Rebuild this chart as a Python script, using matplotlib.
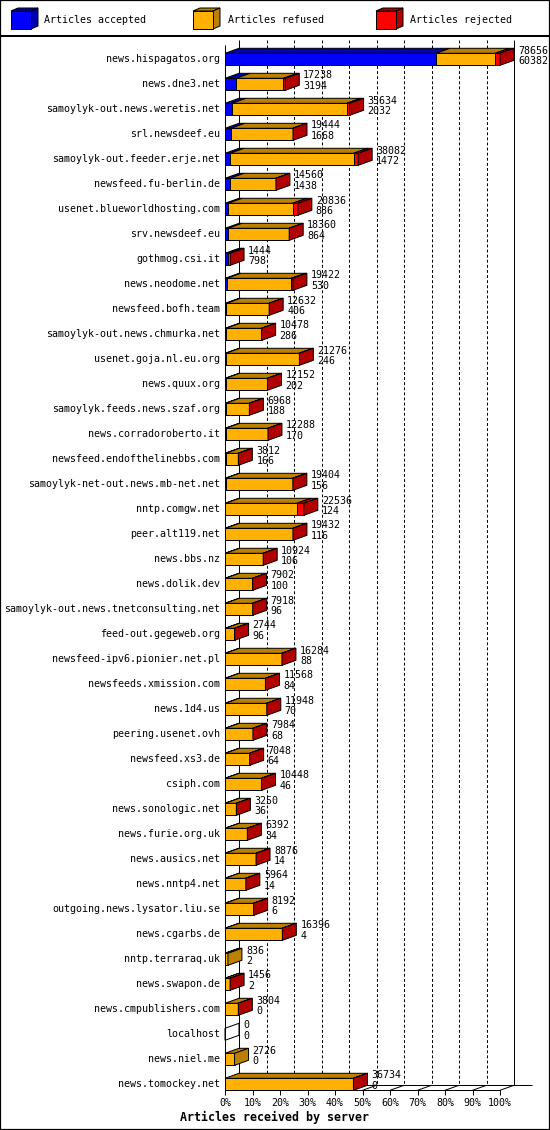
import matplotlib
matplotlib.use('Agg')
import matplotlib.pyplot as plt
from matplotlib.patches import Polygon, Rectangle
from matplotlib.lines import Line2D

# du lieu doc tu hinh
servers = ['news.hispagatos.org', 'news.dne3.net', 'samoylyk-out.news.weretis.net',
           'srl.newsdeef.eu', 'samoylyk-out.feeder.erje.net', 'newsfeed.fu-berlin.de',
           'usenet.blueworldhosting.com', 'srv.newsdeef.eu', 'gothmog.csi.it',
           'news.neodome.net', 'newsfeed.bofh.team', 'samoylyk-out.news.chmurka.net',
           'usenet.goja.nl.eu.org', 'news.quux.org', 'samoylyk.feeds.news.szaf.org',
           'news.corradoroberto.it', 'newsfeed.endofthelinebbs.com',
           'samoylyk-net-out.news.mb-net.net', 'nntp.comgw.net', 'peer.alt119.net',
           'news.bbs.nz', 'news.dolik.dev', 'samoylyk-out.news.tnetconsulting.net',
           'feed-out.gegeweb.org', 'newsfeed-ipv6.pionier.net.pl', 'newsfeeds.xmission.com',
           'news.1d4.us', 'peering.usenet.ovh', 'newsfeed.xs3.de', 'csiph.com',
           'news.sonologic.net', 'news.furie.org.uk', 'news.ausics.net', 'news.nntp4.net',
           'outgoing.news.lysator.liu.se', 'news.cgarbs.de', 'nntp.terraraq.uk',
           'news.swapon.de', 'news.cmpublishers.com', 'localhost', 'news.niel.me',
           'news.tomockey.net']
offered = [78656, 17238, 35634, 19444, 38082, 14560, 20836, 18360, 1444, 19422,
           12632, 10478, 21276, 12152, 6968, 12288, 3812, 19404, 22536, 19432,
           10924, 7902, 7918, 2744, 16284, 11568, 11948, 7984, 7048, 10448,
           3250, 6392, 8876, 5964, 8192, 16396, 836, 1456, 3804, 0, 2726, 36734]
accepted = [60382, 3194, 2032, 1668, 1472, 1438, 886, 864, 798, 530,
            406, 286, 246, 202, 188, 170, 166, 156, 124, 116,
            106, 100, 96, 96, 88, 84, 70, 68, 64, 46,
            36, 34, 14, 14, 6, 4, 2, 2, 0, 0, 0, 0]
# uoc luong tu do dai phan mau do
rejected = [1340, 550, 850, 60, 1300, 60, 1500, 60, 150, 500,
            40, 40, 150, 40, 40, 40, 40, 40, 2000, 40,
            40, 40, 40, 40, 40, 40, 40, 40, 40, 40,
            40, 40, 40, 40, 40, 40, 0, 40, 40, 0, 0, 40]
refused = [o - a - r for o, a, r in zip(offered, accepted, rejected)]

legend_names = ['Articles accepted', 'Articles refused', 'Articles rejected']
front_col = ['#0000FF', '#FFB000', '#FF0000']
dark_col = ['#0000B0', '#BB8000', '#B00000']
pcts = list(range(0, 101, 10))

W, H = 550, 1130
LW = 0.72
FONT = 'DejaVu Sans Mono'
FS = 7.2

fig = plt.figure(figsize=(W / 100, H / 100), dpi=100)
fig.patch.set_facecolor('white')

# truc chinh: x = so bai, y = thu tu hang
ax = fig.add_axes([0, 0, 1, 1])
ax.axis('off')
xmax = max(offered)
ppa = 275 / xmax          # pixel tren 1 bai
pitch = 25.0              # pixel giua 2 hang
row0 = 59.3
ax.set_xlim(-225 / ppa, (W - 225) / ppa)
ax.set_ylim((H - row0) / pitch, -row0 / pitch)

DX = 14 / ppa
DY = 5 / pitch
HB = 12 / pitch
n = len(servers)
floor = n - 1 + HB / 2
top_back = (40 - row0) / pitch

def line(xs, ys, **kw):
    ax.plot(xs, ys, color='black', linewidth=LW, solid_capstyle='butt', **kw)

# tuong va san
line([DX, DX], [top_back, floor - DY], zorder=1)
line([0, 0], [top_back + DY, floor], zorder=4)
line([xmax + DX, xmax + DX], [top_back, floor - DY], zorder=1)
line([0, xmax], [floor, floor], zorder=4)
line([DX, xmax + DX + 18 / ppa], [floor - DY, floor - DY], zorder=1)
for p in pcts:
    xf = p / 100 * xmax
    line([xf, xf + DX], [floor, floor - DY], zorder=1)
    line([xf, xf], [floor, floor + 5 / pitch], zorder=4)
    ax.text(xf, floor + 13 / pitch, '%d%%' % p, ha='center', va='center',
            family=FONT, fontsize=FS)
    if 0 < p < 100:
        ax.plot([xf + DX, xf + DX], [top_back, floor - DY], color='black',
                linewidth=LW, linestyle=(0, (2.9, 2.2)), zorder=1)

def face(pts, color, z=3):
    ax.add_patch(Polygon(pts, closed=True, facecolor=color, edgecolor='black',
                         linewidth=LW, joinstyle='miter', zorder=z))

# ve cac thanh 3D
for i in range(n):
    yt = i - HB / 2
    yb = i + HB / 2
    vals = [accepted[i], refused[i], rejected[i]]
    x0 = 0
    last = None
    for k, v in enumerate(vals):
        if v <= 0:
            continue
        x1 = x0 + v
        face([(x0, yt), (x1, yt), (x1 + DX, yt - DY), (x0 + DX, yt - DY)], dark_col[k])
        face([(x0, yt), (x1, yt), (x1, yb), (x0, yb)], front_col[k])
        x0 = x1
        last = k
    side = [(x0, yt), (x0 + DX, yt - DY), (x0 + DX, yb - DY), (x0, yb)]
    face(side, dark_col[last] if last is not None else 'none')

    ax.text(-5 / ppa, i, servers[i], ha='right', va='center', family=FONT, fontsize=FS)
    xt = x0 + DX + 4 / ppa
    ax.text(xt, i - 8.8 / pitch, str(offered[i]), ha='left', va='center',
            family=FONT, fontsize=FS, zorder=5)
    ax.text(xt, i + 1.8 / pitch, str(accepted[i]), ha='left', va='center',
            family=FONT, fontsize=FS, zorder=5)

fig.text(0.5, 1 - 1117 / H, 'Articles received by server', ha='center', va='center',
         family=FONT, fontsize=8.4, fontweight='bold')

# chu thich phia tren
lax = fig.add_axes([0, 1 - 35 / H, 1, 35 / H])
lax.axis('off')
lax.set_xlim(0, W)
lax.set_ylim(35, 0)
for cx, tx, name, fc, dc in zip([11, 193, 376], [44, 228, 410], legend_names,
                                front_col, dark_col):
    lax.add_patch(Polygon([(cx, 11), (cx + 20, 11), (cx + 27, 8), (cx + 7, 8)],
                          facecolor=dc, edgecolor='black', linewidth=LW))
    lax.add_patch(Polygon([(cx + 20, 11), (cx + 27, 8), (cx + 27, 26), (cx + 20, 29)],
                          facecolor=dc, edgecolor='black', linewidth=LW))
    lax.add_patch(Rectangle((cx, 11), 20, 18, facecolor=fc, edgecolor='black',
                            linewidth=LW))
    lax.text(tx, 20, name, ha='left', va='center', family=FONT, fontsize=FS)

fig.add_artist(Line2D([0, 1], [1 - 35.5 / H, 1 - 35.5 / H], color='black',
                      linewidth=1.44, transform=fig.transFigure))
fig.add_artist(Rectangle((0, 0), 1, 1, transform=fig.transFigure, fill=False,
                         edgecolor='black', linewidth=1.6))

fig.savefig('out.png', dpi=100)
